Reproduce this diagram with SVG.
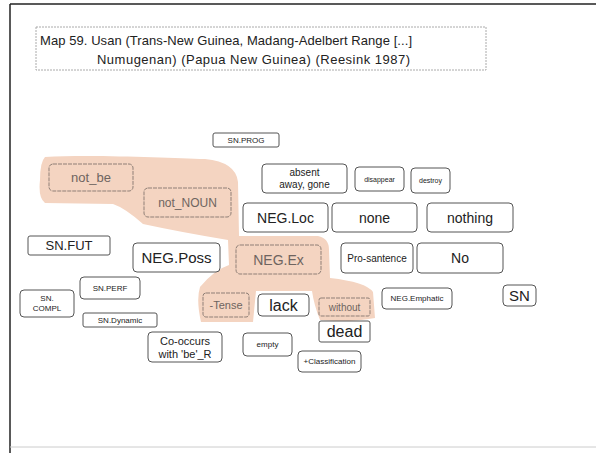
<svg xmlns="http://www.w3.org/2000/svg" width="596" height="453" viewBox="0 0 596 453">
<style>
text{font-family:"Liberation Sans",Arial,sans-serif;fill:#222;text-anchor:middle}
.n rect{fill:#fff;stroke:#555;stroke-width:1}
.o rect{fill:none;stroke:#8f7f76;stroke-width:1;stroke-dasharray:4,1}
.o text{fill:#6e6460}
.t{text-anchor:start;font-size:13px}
</style>
<rect x="0" y="0" width="596" height="453" fill="#fff"/>
<line x1="10" y1="4" x2="596" y2="4" stroke="#222" stroke-width="1.5"/>
<line x1="10" y1="4" x2="10" y2="453" stroke="#222" stroke-width="1.5"/>
<line x1="10" y1="447" x2="596" y2="447" stroke="#ccc" stroke-width="1"/>
<g id="title">
<rect x="36" y="27" width="450" height="43" fill="#fff" stroke="#aaa" stroke-dasharray="2,1"/>
<text class="t" x="40" y="45" textLength="372" lengthAdjust="spacing">Map 59. Usan (Trans-New Guinea, Madang-Adelbert Range [...]</text>
<text class="t" x="97" y="64" textLength="313" lengthAdjust="spacing">Numugenan)  (Papua New Guinea) (Reesink 1987)</text>
</g>
<g id="connectors"></g>
<path id="region" fill="#f4d4c1" d="M45,157 C90,154 170,158 205,159 Q236,162 238,182 L239,236 L318,236 Q329,238 329,250 L330,278 Q366,282 373,292 L375,318 Q350,323 320,320 Q314,305 312,291 L256,291 L253,322 L201,322 Q196,300 200,287 Q214,270 229,265 L228,240 Q180,232 143,224 Q125,208 113,204 L45,203 Q38,198 40,180 Q40,162 45,157 Z"/>
<g id="SN.PROG" class="n"><rect x="213" y="133" width="66" height="14" rx="2"/><text x="246" y="143" font-size="8">SN.PROG</text></g>
<g id="not_be" class="o"><rect x="49" y="164" width="84" height="27" rx="4"/><text x="91" y="182" font-size="13">not_be</text></g>
<g id="not_NOUN" class="o"><rect x="144" y="188" width="87" height="29" rx="4"/><text x="187.5" y="207" font-size="12">not_NOUN</text></g>
<g id="absent" class="n"><rect x="262" y="164" width="85" height="29" rx="4"/><text x="304.5" y="176" font-size="10">absent</text><text x="304.5" y="188" font-size="10">away, gone</text></g>
<g id="disappear" class="n"><rect x="355" y="167" width="49" height="24" rx="4"/><text x="379.5" y="182" font-size="7">disappear</text></g>
<g id="destroy" class="n"><rect x="411" y="168" width="39" height="25" rx="4"/><text x="430.5" y="183" font-size="7">destroy</text></g>
<g id="NEG.Loc" class="n"><rect x="243" y="203" width="85" height="29" rx="4"/><text x="285.5" y="223" font-size="14">NEG.Loc</text></g>
<g id="none" class="n"><rect x="332" y="203" width="85" height="29" rx="4"/><text x="374.5" y="223" font-size="14">none</text></g>
<g id="nothing" class="n"><rect x="427" y="203" width="86" height="29" rx="4"/><text x="470" y="223" font-size="14">nothing</text></g>
<g id="SN.FUT" class="n"><rect x="28" y="236" width="82" height="19" rx="2"/><text x="69" y="250" font-size="13">SN.FUT</text></g>
<g id="NEG.Poss" class="n"><rect x="133" y="243" width="87" height="29" rx="4"/><text x="176.5" y="263" font-size="15">NEG.Poss</text></g>
<g id="NEG.Ex" class="o"><rect x="236" y="245" width="85" height="29" rx="4"/><text x="278.5" y="265" font-size="14">NEG.Ex</text></g>
<g id="Pro-santence" class="n"><rect x="341" y="243" width="72" height="30" rx="4"/><text x="377" y="262" font-size="10">Pro-santence</text></g>
<g id="No" class="n"><rect x="417" y="243" width="86" height="30" rx="4"/><text x="460" y="263" font-size="14">No</text></g>
<g id="SN.PERF" class="n"><rect x="80" y="277" width="60" height="22" rx="4"/><text x="110" y="291" font-size="8">SN.PERF</text></g>
<g id="SN.COMPL" class="n"><rect x="20" y="290" width="54" height="27" rx="4"/><text x="47" y="301" font-size="8">SN.</text><text x="47" y="311" font-size="8">COMPL</text></g>
<g id="SN.Dynamic" class="n"><rect x="83" y="313" width="74" height="14" rx="2"/><text x="120" y="323" font-size="8">SN.Dynamic</text></g>
<g id="Tense" class="o"><rect x="203" y="293" width="46" height="24" rx="3"/><text x="226" y="309" font-size="11">-Tense</text></g>
<g id="lack" class="n"><rect x="258" y="294" width="51" height="22" rx="4"/><text x="283.5" y="311" font-size="16">lack</text></g>
<g id="without" class="o"><rect x="319" y="298" width="51" height="18" rx="2"/><text x="344.5" y="311" font-size="10">without</text></g>
<g id="NEG.Emphatic" class="n"><rect x="382" y="288" width="70" height="21" rx="4"/><text x="417" y="301" font-size="8">NEG.Emphatic</text></g>
<g id="SN" class="n"><rect x="503" y="285" width="33" height="21" rx="4"/><text x="519.5" y="301" font-size="15">SN</text></g>
<g id="dead" class="n"><rect x="319" y="321" width="51" height="21" rx="2"/><text x="344.5" y="337" font-size="16">dead</text></g>
<g id="Co-occurs" class="n"><rect x="148" y="332" width="74" height="30" rx="4"/><text x="185" y="345" font-size="11">Co-occurs</text><text x="185" y="358" font-size="11">with 'be'_R</text></g>
<g id="empty" class="n"><rect x="243" y="333" width="49" height="23" rx="4"/><text x="267.5" y="347" font-size="8">empty</text></g>
<g id="Classification" class="n"><rect x="298" y="351" width="63" height="21" rx="4"/><text x="329.5" y="364" font-size="8">+Classification</text></g>
</svg>
